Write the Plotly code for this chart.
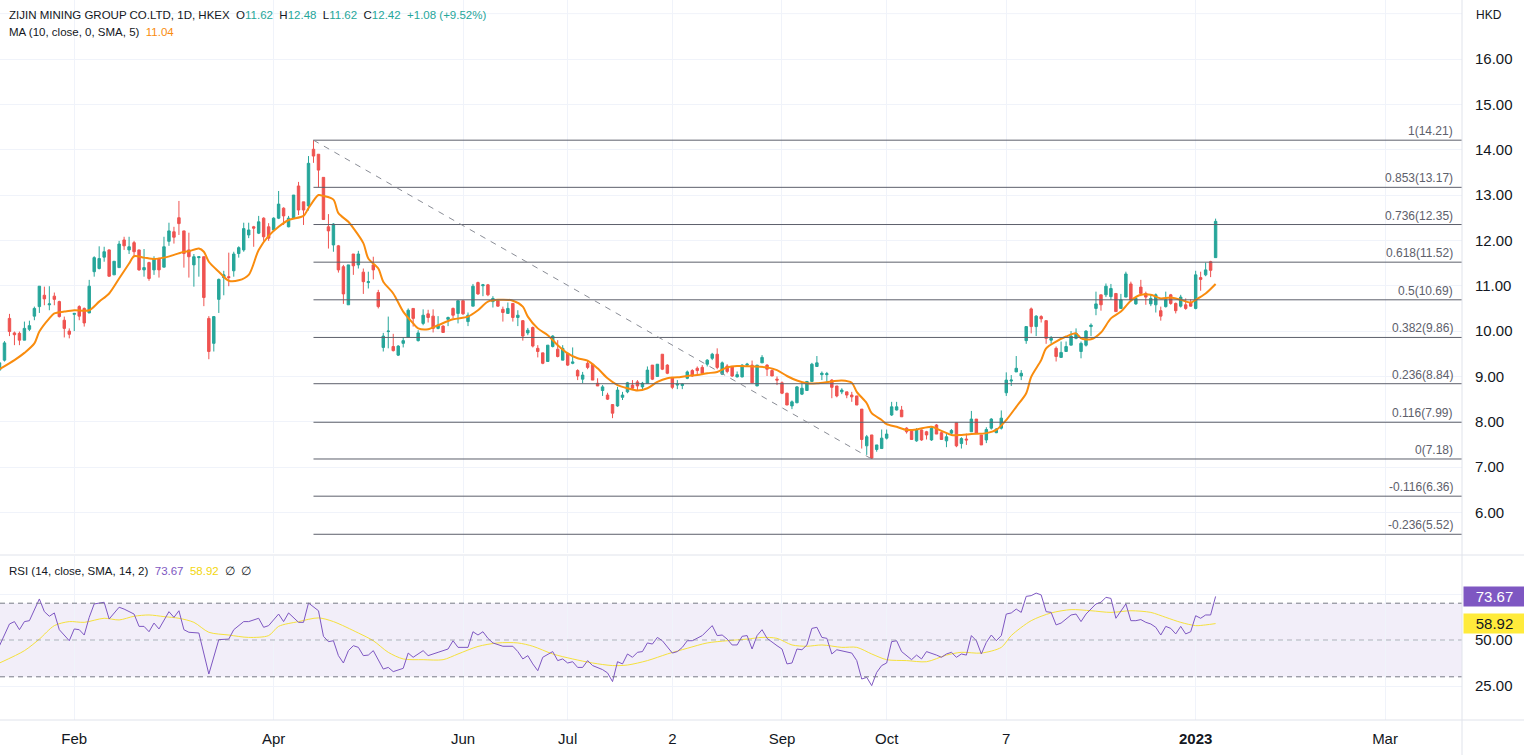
import plotly.graph_objects as go

# ---------------- data ----------------
bar_open = [9.14, 9.36, 10.28, 9.96, 9.95, 9.80, 10.04, 10.33, 10.54, 10.79,
            10.58, 10.77, 10.65, 10.24, 10.00, 10.37, 10.54, 10.50, 10.40, 11.31,
            11.38, 11.63, 11.79, 11.24, 11.40, 12.01, 11.79, 11.95, 11.79, 11.35,
            11.51, 11.35, 11.60, 11.41, 11.98, 12.19, 12.50, 12.21, 11.79, 11.46,
            11.62, 11.64, 10.28, 9.73, 10.70, 11.18, 11.20, 11.33, 11.71, 11.79,
            12.12, 12.30, 12.16, 12.49, 12.30, 12.23, 12.49, 12.71, 12.30, 12.49,
            13.20, 12.85, 12.76, 14.01, 13.90, 13.39, 12.30, 11.90, 11.88, 11.42,
            10.58, 11.70, 11.46, 11.30, 11.07, 11.46, 10.85, 9.64, 9.99, 9.66,
            9.47, 9.73, 9.86, 10.50, 9.79, 10.17, 10.38, 10.33, 10.06, 10.11,
            10.26, 10.50, 10.39, 10.67, 10.21, 10.55, 11.07, 11.00, 11.02, 10.65,
            10.67, 10.48, 10.39, 10.61, 10.30, 10.23, 9.96, 10.08, 9.62, 9.52,
            9.33, 9.66, 9.60, 9.36, 9.51, 9.29, 9.13, 8.94, 9.29, 9.27,
            8.85, 8.69, 8.59, 8.38, 8.35, 8.54, 8.66, 8.81, 8.88, 8.77,
            8.85, 9.25, 9.00, 9.49, 9.25, 8.98, 8.81, 8.80, 8.96, 9.13,
            9.18, 9.20, 9.27, 9.40, 9.49, 9.05, 9.23, 9.22, 8.99, 8.99,
            9.25, 9.25, 8.79, 9.30, 9.25, 9.13, 8.94, 8.86, 8.63, 8.35,
            8.42, 8.61, 8.69, 8.89, 9.22, 9.04, 9.04, 8.92, 8.79, 8.66,
            8.66, 8.59, 8.57, 8.28, 7.47, 7.71, 7.39, 7.41, 7.64, 8.15,
            8.26, 8.26, 7.86, 7.81, 7.58, 7.82, 7.78, 7.60, 7.93, 7.76,
            7.58, 7.75, 7.98, 7.52, 7.62, 7.78, 8.06, 7.71, 7.60, 7.86,
            7.76, 7.86, 8.64, 8.90, 9.10, 9.01, 9.79, 10.49, 10.10, 10.32,
            10.23, 9.80, 9.62, 9.42, 9.55, 9.69, 9.84, 9.55, 9.69, 10.10,
            10.50, 10.80, 10.80, 10.76, 10.83, 10.50, 10.75, 11.04, 10.60, 10.97,
            10.83, 10.60, 10.58, 10.45, 10.54, 10.80, 10.61, 10.55, 10.58, 10.63,
            10.50, 11.18, 11.24, 11.53, 11.62]
bar_high = [9.32, 9.78, 10.38, 9.99, 9.99, 10.21, 10.23, 10.54, 10.99, 10.98,
            10.99, 10.85, 10.67, 10.32, 10.06, 10.39, 10.57, 10.52, 11.13, 11.65,
            11.87, 11.86, 11.80, 11.54, 11.99, 12.08, 12.08, 11.99, 11.79, 11.81,
            11.53, 11.65, 11.62, 12.08, 12.39, 12.30, 12.87, 12.21, 12.17, 11.70,
            11.64, 11.64, 10.33, 10.33, 11.16, 11.33, 11.73, 11.75, 11.87, 12.39,
            12.39, 12.32, 12.54, 12.51, 12.38, 12.51, 13.09, 12.73, 12.54, 13.00,
            13.29, 12.85, 13.86, 14.21, 13.90, 13.39, 12.58, 12.38, 11.90, 11.46,
            11.46, 11.70, 11.77, 11.38, 11.31, 11.64, 10.91, 9.96, 10.32, 9.94,
            9.69, 9.86, 10.50, 10.50, 10.02, 10.48, 10.47, 10.48, 10.33, 10.13,
            10.32, 10.52, 10.67, 10.67, 10.41, 11.04, 11.09, 11.04, 11.04, 10.77,
            10.69, 10.54, 10.63, 10.61, 10.46, 10.24, 10.07, 10.10, 9.69, 9.52,
            9.69, 9.91, 9.80, 9.69, 9.52, 9.64, 9.16, 9.10, 9.36, 9.27,
            8.96, 8.81, 8.64, 8.39, 8.77, 8.66, 8.88, 8.92, 8.92, 8.88,
            9.22, 9.25, 9.27, 9.49, 9.27, 8.99, 8.92, 8.85, 9.13, 9.16,
            9.22, 9.25, 9.38, 9.52, 9.62, 9.33, 9.27, 9.23, 9.11, 9.27,
            9.30, 9.35, 9.25, 9.47, 9.27, 9.16, 9.00, 8.89, 8.64, 8.47,
            8.79, 8.85, 8.89, 9.30, 9.45, 9.11, 9.10, 8.94, 8.79, 8.74,
            8.66, 8.66, 8.57, 8.28, 7.71, 7.71, 7.49, 7.83, 7.83, 8.44,
            8.44, 8.35, 7.88, 7.82, 7.86, 7.83, 7.80, 7.88, 7.95, 7.78,
            7.73, 7.84, 7.98, 7.66, 7.74, 8.24, 8.06, 7.71, 7.88, 8.08,
            7.86, 8.25, 9.09, 9.03, 9.45, 9.14, 10.11, 10.52, 10.35, 10.35,
            10.24, 9.89, 9.66, 9.77, 9.77, 10.00, 10.06, 9.77, 10.02, 10.17,
            10.87, 10.80, 11.05, 11.04, 10.83, 10.82, 11.31, 11.09, 10.74, 11.13,
            10.87, 10.80, 10.83, 10.54, 10.87, 10.82, 10.63, 10.80, 10.72, 10.70,
            11.33, 11.31, 11.51, 11.55, 12.48]
bar_low = [9.10, 9.33, 9.89, 9.69, 9.69, 9.80, 10.00, 10.24, 10.40, 10.57,
           10.46, 10.57, 10.30, 9.86, 9.84, 10.00, 10.24, 10.10, 10.40, 11.20,
           11.36, 11.53, 11.20, 11.24, 11.40, 11.79, 11.70, 11.65, 11.33, 11.20,
           11.11, 11.24, 11.18, 11.41, 11.88, 11.93, 12.12, 11.40, 11.18, 10.98,
           11.20, 10.55, 9.38, 9.55, 10.40, 10.79, 10.99, 11.20, 11.62, 11.75,
           12.05, 11.86, 12.14, 11.99, 11.99, 12.19, 12.47, 12.34, 12.29, 12.49,
           12.56, 12.34, 12.66, 13.71, 13.17, 12.46, 11.82, 11.75, 11.29, 10.60,
           10.58, 11.24, 11.38, 10.82, 10.94, 11.14, 10.50, 9.55, 9.62, 9.55,
           9.45, 9.64, 9.86, 10.10, 9.77, 10.13, 10.19, 9.97, 10.04, 9.96,
           10.11, 10.28, 10.17, 10.36, 10.11, 10.55, 10.80, 10.77, 10.77, 10.52,
           10.54, 10.21, 10.39, 10.21, 10.11, 9.79, 9.91, 9.64, 9.42, 9.27,
           9.33, 9.64, 9.42, 9.36, 9.23, 9.27, 8.92, 8.85, 9.16, 8.92,
           8.79, 8.57, 8.48, 8.08, 8.33, 8.48, 8.63, 8.70, 8.69, 8.72,
           8.85, 8.92, 9.00, 9.14, 9.05, 8.72, 8.72, 8.72, 8.94, 8.99,
           9.05, 9.03, 9.22, 9.36, 9.16, 9.03, 9.07, 8.99, 8.98, 8.98,
           9.23, 8.85, 8.79, 9.30, 9.01, 9.01, 8.81, 8.61, 8.37, 8.28,
           8.41, 8.59, 8.69, 8.89, 9.22, 8.92, 8.88, 8.52, 8.54, 8.61,
           8.52, 8.44, 8.37, 7.41, 7.27, 7.18, 7.34, 7.41, 7.61, 8.13,
           8.25, 8.11, 7.74, 7.60, 7.56, 7.58, 7.61, 7.58, 7.73, 7.60,
           7.44, 7.72, 7.44, 7.41, 7.49, 7.78, 7.74, 7.49, 7.53, 7.83,
           7.75, 7.83, 8.57, 8.79, 9.10, 8.92, 9.72, 9.95, 9.89, 10.19,
           9.72, 9.72, 9.33, 9.42, 9.55, 9.69, 9.82, 9.40, 9.66, 9.89,
           10.35, 10.45, 10.75, 10.69, 10.43, 10.50, 10.75, 10.65, 10.58, 10.77,
           10.58, 10.55, 10.41, 10.23, 10.52, 10.58, 10.39, 10.52, 10.47, 10.54,
           10.48, 10.89, 11.21, 11.19, 11.62]
bar_close = [9.30, 9.74, 9.99, 9.92, 9.80, 10.06, 10.12, 10.50, 10.99, 10.71,
             10.60, 10.70, 10.32, 10.06, 9.93, 10.39, 10.33, 10.18, 10.99, 11.62,
             11.60, 11.75, 11.21, 11.54, 11.92, 11.88, 11.86, 11.75, 11.35, 11.40,
             11.16, 11.60, 11.35, 11.86, 12.21, 12.07, 12.37, 11.71, 11.64, 11.64,
             11.64, 10.74, 9.55, 10.32, 11.14, 11.24, 11.18, 11.70, 11.84, 12.26,
             12.23, 12.27, 12.41, 12.08, 12.05, 12.49, 12.80, 12.54, 12.49, 13.00,
             12.67, 12.67, 13.70, 13.86, 13.55, 12.46, 12.21, 12.36, 11.35, 10.82,
             11.46, 11.44, 11.70, 11.09, 11.09, 11.35, 10.54, 9.89, 10.00, 9.57,
             9.67, 9.79, 10.46, 10.28, 9.96, 10.35, 10.30, 10.06, 10.13, 9.97,
             10.30, 10.35, 10.67, 10.38, 10.35, 10.99, 10.82, 11.02, 10.80, 10.72,
             10.55, 10.41, 10.50, 10.30, 10.35, 9.89, 10.02, 9.67, 9.55, 9.29,
             9.69, 9.89, 9.44, 9.62, 9.25, 9.32, 9.01, 9.03, 9.20, 8.92,
             8.79, 8.77, 8.50, 8.19, 8.70, 8.59, 8.86, 8.74, 8.79, 8.85,
             9.14, 8.94, 9.27, 9.16, 9.07, 8.76, 8.83, 8.83, 9.10, 9.01,
             9.13, 9.07, 9.36, 9.49, 9.20, 9.30, 9.11, 9.01, 9.04, 9.25,
             9.27, 8.86, 9.25, 9.42, 9.16, 9.01, 8.92, 8.63, 8.37, 8.44,
             8.77, 8.74, 8.89, 9.27, 9.30, 9.07, 9.06, 8.76, 8.57, 8.70,
             8.59, 8.55, 8.37, 7.61, 7.67, 7.20, 7.49, 7.64, 7.73, 8.33,
             8.33, 8.11, 7.78, 7.61, 7.83, 7.60, 7.71, 7.86, 7.73, 7.61,
             7.67, 7.81, 7.47, 7.63, 7.60, 8.06, 7.74, 7.49, 7.83, 8.06,
             7.84, 8.08, 8.92, 8.92, 9.18, 9.07, 10.10, 10.10, 10.33, 10.27,
             9.84, 9.84, 9.44, 9.53, 9.66, 9.89, 9.95, 9.73, 10.00, 10.13,
             10.60, 10.58, 10.99, 10.94, 10.43, 10.69, 11.26, 10.69, 10.72, 10.83,
             10.75, 10.72, 10.80, 10.33, 10.69, 10.61, 10.45, 10.75, 10.50, 10.55,
             11.24, 11.14, 11.35, 11.34, 12.42]

# MA(10) line, read at sampled bars
ma_bar = [0, 3, 5, 7, 8, 10, 11, 13, 15, 18, 20, 22, 24, 26, 27, 29, 31, 33, 35, 37,
          38, 40, 41, 42, 44, 46, 48, 50, 52, 54, 56, 58, 61, 62, 64, 65, 67, 68, 70, 71,
          73, 74, 76, 77, 79, 81, 83, 84, 86, 88, 91, 94, 96, 98, 100, 103, 105, 106, 108, 110,
          112, 114, 116, 118, 120, 122, 124, 126, 128, 130, 132, 134, 136, 138, 140, 142, 144, 146, 148, 151,
          154, 156, 158, 160, 162, 164, 167, 169, 171, 172, 174, 175, 177, 178, 180, 182, 184, 187, 189, 191,
          193, 195, 198, 200, 202, 204, 206, 207, 209, 210, 212, 214, 216, 217, 219, 221, 223, 225, 227, 229,
          231, 233, 235, 237, 239, 240, 242, 244]
ma_val = [9.16, 9.36, 9.52, 9.73, 9.99, 10.28, 10.39, 10.43, 10.46, 10.46, 10.65, 10.83, 11.16, 11.49, 11.65, 11.62, 11.59, 11.62, 11.68, 11.75,
          11.76, 11.82, 11.75, 11.53, 11.31, 11.11, 11.12, 11.24, 11.79, 12.10, 12.30, 12.45, 12.54, 12.71, 13.00, 12.98, 12.90, 12.60, 12.41, 12.27,
          11.94, 11.60, 11.38, 11.09, 10.83, 10.43, 10.17, 10.06, 10.04, 10.13, 10.26, 10.32, 10.46, 10.65, 10.69, 10.67, 10.54, 10.32, 10.06, 9.91,
          9.69, 9.51, 9.40, 9.35, 9.18, 8.96, 8.81, 8.74, 8.69, 8.74, 8.88, 8.96, 8.98, 9.01, 9.03, 9.07, 9.10, 9.20, 9.23, 9.22,
          9.20, 9.14, 9.01, 8.91, 8.85, 8.85, 8.89, 8.91, 8.86, 8.66, 8.41, 8.19, 8.04, 7.95, 7.89, 7.82, 7.83, 7.89, 7.80, 7.71,
          7.71, 7.73, 7.75, 7.82, 8.04, 8.33, 8.63, 8.99, 9.36, 9.62, 9.77, 9.88, 9.95, 9.84, 9.82, 9.97, 10.28, 10.43, 10.67, 10.80,
          10.80, 10.72, 10.74, 10.69, 10.63, 10.69, 10.83, 11.04]

# RSI(14) and its SMA(14), read at sampled bars
rsi_bar = [0, 2, 3, 4, 5, 6, 8, 9, 10, 11, 12, 14, 15, 16, 17, 18, 19, 20, 21, 22,
           24, 25, 27, 28, 29, 30, 31, 32, 34, 35, 36, 37, 38, 40, 42, 44, 46, 47, 49, 50,
           52, 53, 54, 56, 57, 58, 60, 61, 62, 64, 65, 66, 67, 68, 69, 70, 71, 72, 73, 74,
           75, 77, 78, 79, 81, 82, 83, 85, 86, 88, 90, 91, 92, 94, 95, 96, 97, 98, 99, 101,
           103, 104, 105, 106, 107, 108, 109, 111, 112, 113, 114, 115, 116, 117, 118, 119, 121, 122, 123, 124,
           125, 126, 127, 128, 129, 130, 131, 132, 133, 135, 136, 137, 138, 139, 140, 141, 143, 144, 145, 146,
           147, 148, 149, 150, 151, 152, 153, 154, 156, 157, 158, 159, 160, 161, 162, 163, 164, 165, 166, 167,
           168, 169, 171, 172, 173, 174, 175, 176, 177, 178, 179, 180, 181, 183, 184, 185, 186, 188, 189, 190,
           191, 192, 193, 194, 195, 196, 197, 198, 199, 200, 201, 202, 203, 204, 205, 206, 207, 208, 209, 210,
           211, 212, 213, 215, 216, 217, 218, 220, 221, 222, 223, 224, 225, 226, 227, 228, 229, 230, 231, 232,
           233, 234, 235, 236, 237, 238, 239, 240, 241, 242, 243, 244]
rsi_val = [46.9, 58.7, 60.0, 55.6, 60.0, 60.5, 72.3, 65.4, 62.9, 64.7, 55.6, 49.6, 56.0, 55.6, 52.7, 62.3, 69.6, 70.0, 70.5, 61.4,
           67.8, 66.8, 64.1, 57.4, 57.4, 54.5, 59.2, 56.0, 65.4, 62.3, 65.9, 55.6, 54.2, 53.8, 31.5, 50.2, 50.5, 55.6, 60.0, 60.0,
           61.8, 56.9, 57.8, 64.1, 60.0, 64.7, 59.6, 59.6, 70.1, 65.9, 52.0, 49.1, 49.6, 41.5, 37.5, 44.2, 46.9, 46.0, 41.5, 41.8,
           44.2, 34.2, 35.1, 32.8, 34.6, 42.9, 40.6, 44.2, 41.5, 43.3, 45.1, 49.6, 46.0, 46.0, 54.5, 52.7, 54.5, 50.9, 48.4, 46.6,
           46.6, 43.7, 39.7, 41.5, 37.0, 33.3, 40.6, 43.7, 38.8, 39.7, 37.5, 38.2, 35.1, 35.1, 38.8, 36.1, 33.9, 32.1, 27.4, 38.2,
           37.0, 42.4, 40.6, 43.3, 43.7, 48.4, 47.8, 51.4, 49.6, 42.9, 43.7, 46.0, 49.6, 49.6, 50.9, 52.4, 57.8, 52.4, 52.7, 50.5,
           47.3, 47.3, 52.0, 52.4, 45.1, 52.4, 55.6, 50.9, 46.9, 45.1, 37.0, 37.5, 45.1, 44.7, 47.3, 56.3, 56.9, 51.4, 50.9, 42.4,
           44.7, 44.2, 42.9, 38.8, 28.8, 29.7, 25.2, 32.4, 36.1, 37.5, 49.1, 49.6, 43.7, 39.3, 41.8, 39.7, 43.7, 41.8, 40.6, 42.4,
           43.3, 40.6, 42.4, 41.8, 52.4, 49.6, 42.4, 48.7, 52.7, 49.6, 52.4, 64.1, 64.7, 66.8, 65.0, 73.7, 74.1, 75.5, 74.5, 65.4,
           65.0, 58.2, 59.2, 63.6, 64.1, 60.0, 64.1, 69.6, 70.5, 73.2, 72.6, 61.8, 65.4, 69.6, 60.5, 60.5, 61.1, 59.6, 58.7, 56.9,
           52.7, 57.4, 56.3, 53.3, 57.4, 53.3, 54.5, 63.2, 61.8, 63.6, 63.6, 73.67]
rsi_ma_bar = [0, 5, 8, 11, 14, 17, 21, 24, 27, 30, 33, 36, 39, 42, 46, 50, 54, 56, 60, 64,
              67, 72, 75, 78, 81, 85, 89, 92, 96, 100, 104, 107, 111, 115, 119, 123, 126, 130, 134, 138,
              142, 146, 150, 153, 156, 159, 162, 165, 169, 172, 175, 178, 182, 186, 190, 193, 197, 201, 203, 207,
              211, 215, 219, 223, 227, 231, 234, 237, 240, 242, 244]
rsi_ma_val = [37.5, 44.2, 50.5, 57.8, 60.0, 59.6, 61.8, 60.9, 62.9, 63.6, 62.7, 61.8, 59.6, 54.2, 52.7, 51.4, 52.4, 57.4, 60.0, 62.0,
              60.0, 53.8, 49.6, 43.3, 39.7, 39.3, 39.3, 42.4, 46.5, 48.4, 48.4, 46.6, 42.4, 39.7, 37.5, 36.1, 36.4, 38.8, 42.4, 45.5,
              48.4, 49.6, 50.5, 51.4, 50.9, 47.3, 46.6, 47.3, 46.0, 46.0, 42.4, 39.3, 38.8, 38.2, 41.8, 43.3, 42.9, 46.0, 52.4, 60.5,
              64.7, 66.5, 65.9, 65.0, 65.9, 65.0, 62.3, 59.6, 57.8, 58.2, 58.92]

# Fibonacci retracement (drawn from the swing high bar to the swing low bar)
fib_ratio = [1, 0.853, 0.736, 0.618, 0.5, 0.382, 0.236, 0.116, 0, -0.116, -0.236]
fib_price = [14.21, 13.17, 12.35, 11.52, 10.69, 9.86, 8.84, 7.99, 7.18, 6.36, 5.52]
swing_high_bar = 63
swing_low_bar = 175

# axis ticks
x_tick_bar = [15, 55, 93, 114, 135, 157, 178, 202, 240, 278]
x_tick_text = ["Feb", "Apr", "Jun", "Jul", "2", "Sep", "Oct", "7", "<b>2023</b>", "Mar"]
price_ticks = [6, 7, 8, 9, 10, 11, 12, 13, 14, 15, 16]
rsi_ticks = [25, 50, 75]

# ---------------- styling ----------------
W, H = 1524, 755
ML, MR, MT, MB = 0, 62, 0, 35
PW, PH = W - ML - MR, H - MT - MB
UP, DOWN = "#26a69a", "#ef5350"
GRID = "#f0f3fa"
SEP = "#e0e3eb"
TXT = "#131722"
FONT = "Liberation Sans"
PURPLE = "#7e57c2"
YELLOW = "#f5e13c"
ORANGE = "#f98c0e"
FIBC = "#5d606b"

def px_x(p):
    return (p - ML) / PW

def px_y(p):
    return 1 - (p - MT) / PH

X_RANGE = [0.1, 0.1 + PW / 4.984]
PRICE_RANGE = [5.107, 17.301]
RSI_RANGE = [6.52, 95.65]

N = len(bar_close)
bars = list(range(N))

fig = go.Figure()
fig.add_trace(go.Candlestick(
    x=bars, open=bar_open, high=bar_high, low=bar_low, close=bar_close,
    increasing=dict(line=dict(color=UP, width=1), fillcolor=UP),
    decreasing=dict(line=dict(color=DOWN, width=1), fillcolor=DOWN),
    whiskerwidth=0, showlegend=False, hoverinfo="skip", xaxis="x", yaxis="y"))
fig.add_trace(go.Scatter(x=ma_bar, y=ma_val, mode="lines",
                         line=dict(color=ORANGE, width=2, shape="spline", smoothing=0.8),
                         showlegend=False, hoverinfo="skip", xaxis="x", yaxis="y"))
fig.add_trace(go.Scatter(x=rsi_ma_bar, y=rsi_ma_val, mode="lines",
                         line=dict(color=YELLOW, width=1, shape="spline", smoothing=0.8),
                         showlegend=False, hoverinfo="skip", xaxis="x", yaxis="y2"))
fig.add_trace(go.Scatter(x=rsi_bar, y=rsi_val, mode="lines",
                         line=dict(color=PURPLE, width=1),
                         showlegend=False, hoverinfo="skip", xaxis="x", yaxis="y2"))

shapes = []
annotations = []

# extra gridline at 17 (no label)
shapes.append(dict(type="line", xref="paper", yref="y", x0=0, x1=1, y0=17, y1=17,
                   line=dict(color=GRID, width=1), layer="below"))

# RSI band and levels
shapes.append(dict(type="rect", xref="paper", yref="y2", x0=0, x1=1, y0=30, y1=70,
                   fillcolor="rgba(126,87,194,0.10)", line=dict(width=0), layer="below"))
for lvl, col in [(70, "#787b86"), (50, "rgba(120,123,134,0.55)"), (30, "#787b86")]:
    shapes.append(dict(type="line", xref="paper", yref="y2", x0=0, x1=1, y0=lvl, y1=lvl,
                       line=dict(color=col, width=1, dash="5px,4px")))

# fib levels
for r, p in zip(fib_ratio, fib_price):
    shapes.append(dict(type="line", xref="x", yref="y", x0=swing_high_bar, x1=X_RANGE[1],
                       y0=p, y1=p, line=dict(color=FIBC, width=1)))
    annotations.append(dict(xref="paper", yref="y", x=px_x(1455), y=p, xanchor="right",
                            yanchor="bottom", yshift=0, showarrow=False,
                            text=f"{r:g}({p:.2f})", font=dict(family=FONT, size=12, color=FIBC)))
# trend line of the fib
shapes.append(dict(type="line", xref="x", yref="y", x0=swing_high_bar, x1=swing_low_bar,
                   y0=fib_price[0], y1=fib_price[8],
                   line=dict(color="#8a8d96", width=1, dash="6px,6px")))

# separators
shapes.append(dict(type="line", xref="paper", yref="paper", x0=1, x1=1,
                   y0=px_y(H), y1=1, line=dict(color=SEP, width=1)))
shapes.append(dict(type="line", xref="paper", yref="paper", x0=0, x1=px_x(W),
                   y0=px_y(555), y1=px_y(555), line=dict(color=SEP, width=1)))
shapes.append(dict(type="line", xref="paper", yref="paper", x0=0, x1=px_x(W),
                   y0=0, y1=0, line=dict(color=SEP, width=1)))

# header legend
chg = bar_close[-1] - bar_close[-2]
pct = chg / bar_close[-2] * 100
sp = "\u00a0\u00a0"
def g(v):
    return f"<span style='color:{UP}'>{v}</span>"
hdr = (f"ZIJIN MINING GROUP CO.LTD, 1D, HKEX{sp}O{g(f'{bar_open[-1]:.2f}')}{sp}"
       f"H{g(f'{bar_high[-1]:.2f}')}{sp}L{g(f'{bar_low[-1]:.2f}')}{sp}"
       f"C{g(f'{bar_close[-1]:.2f}')}{sp}{g(f'{chg:+.2f} ({pct:+.2f}%)')}")
annotations.append(dict(xref="paper", yref="paper", x=px_x(7), y=px_y(15), xanchor="left",
                        yanchor="middle", showarrow=False, text=hdr,
                        font=dict(family=FONT, size=11.5, color=TXT)))
annotations.append(dict(xref="paper", yref="paper", x=px_x(7), y=px_y(32), xanchor="left",
                        yanchor="middle", showarrow=False,
                        text=f"MA (10, close, 0, SMA, 5){sp}<span style='color:{ORANGE}'>{ma_val[-1]:.2f}</span>",
                        font=dict(family=FONT, size=11.5, color=TXT)))
annotations.append(dict(xref="paper", yref="paper", x=px_x(7), y=px_y(571), xanchor="left",
                        yanchor="middle", showarrow=False,
                        text=(f"RSI (14, close, SMA, 14, 2){sp}<span style='color:{PURPLE}'>{rsi_val[-1]:.2f}</span>"
                              f"{sp}<span style='color:#f2d60c'>{rsi_ma_val[-1]:.2f}</span>{sp}\u2205{sp}\u2205"),
                        font=dict(family=FONT, size=11.5, color=TXT)))
annotations.append(dict(xref="paper", yref="paper", x=px_x(1474), y=px_y(15), xanchor="left",
                        yanchor="middle", showarrow=False, text="HKD",
                        font=dict(family=FONT, size=12, color=TXT)))
# RSI value boxes on the scale
for v, bg, fc in [(rsi_val[-1], PURPLE, "white"), (rsi_ma_val[-1], "#ffeb3b", TXT)]:
    annotations.append(dict(xref="paper", yref="y2", x=px_x(PW + 1), y=v, xanchor="left",
                            yanchor="middle", showarrow=False, text=f"{v:.2f}",
                            bgcolor=bg, width=57, height=15, borderpad=2, align="center",
                            font=dict(family=FONT, size=15, color=fc)))

fig.update_layout(
    width=W, height=H, margin=dict(l=ML, r=MR, t=MT, b=MB),
    paper_bgcolor="white", plot_bgcolor="white",
    hovermode=False, dragmode=False,
    font=dict(family=FONT, color=TXT),
    xaxis=dict(range=X_RANGE, tickmode="array", tickvals=x_tick_bar, ticktext=x_tick_text,
               showgrid=True, gridcolor=GRID, gridwidth=1, zeroline=False, showline=False,
               ticks="", ticklabelstandoff=8, tickfont=dict(family=FONT, size=15, color=TXT),
               rangeslider=dict(visible=False), anchor="y2", fixedrange=True),
    yaxis=dict(domain=[px_y(553), 1], range=PRICE_RANGE, side="right", anchor="x",
               tickmode="array", tickvals=price_ticks, tickformat=".2f",
               showgrid=True, gridcolor=GRID, zeroline=False, showline=False, ticks="",
               ticklabelstandoff=12, tickfont=dict(family=FONT, size=15, color=TXT), fixedrange=True),
    yaxis2=dict(domain=[0, px_y(556)], range=RSI_RANGE, side="right", anchor="x",
                tickmode="array", tickvals=rsi_ticks, tickformat=".2f",
                showgrid=True, gridcolor=GRID, zeroline=False, showline=False, ticks="",
                ticklabelstandoff=12, tickfont=dict(family=FONT, size=15, color=TXT), fixedrange=True),
    shapes=shapes, annotations=annotations,
)

fig.write_html("out.html", config={"displayModeBar": False, "staticPlot": True},
               post_script="document.body.style.margin='0';document.body.style.overflow='hidden';")
